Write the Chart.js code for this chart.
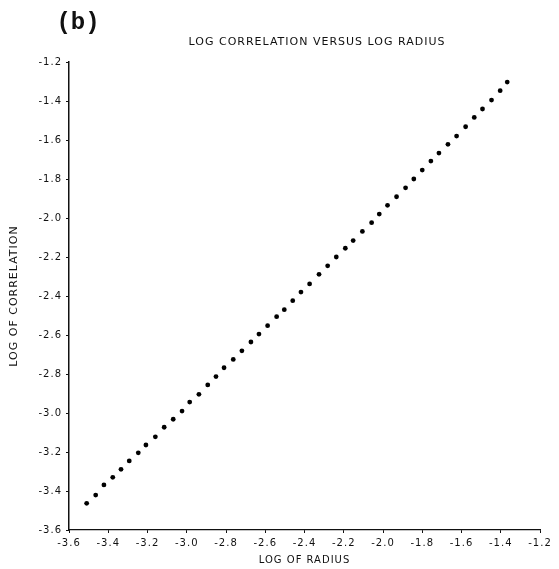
<!DOCTYPE html>
<html>
<head>
<meta charset="utf-8">
<script src="https://cdn.jsdelivr.net/npm/chart.js@4"></script>
<style>
html,body{margin:0;padding:0;background:#ffffff;}
#c{display:block;}
</style>
</head>
<body>
<canvas id="c" width="559" height="569"></canvas>
<script>
// ---- data ----
const logRadius = [-3.510,-3.464,-3.422,-3.377,-3.335,-3.293,-3.247,-3.208,-3.160,-3.115,
                   -3.069,-3.024,-2.985,-2.938,-2.893,-2.851,-2.810,-2.763,-2.719,-2.673,
                   -2.632,-2.588,-2.542,-2.503,-2.460,-2.418,-2.374,-2.326,-2.282,-2.238,
                   -2.192,-2.152,-2.105,-2.058,-2.019,-1.977,-1.931,-1.885,-1.843,-1.800,
                   -1.756,-1.715,-1.669,-1.625,-1.579,-1.535,-1.493,-1.447,-1.403,-1.367];
const logCorrelation = [-3.463,-3.421,-3.369,-3.330,-3.289,-3.246,-3.204,-3.164,-3.122,-3.073,
                        -3.032,-2.990,-2.944,-2.904,-2.856,-2.813,-2.768,-2.725,-2.681,-2.636,
                        -2.595,-2.552,-2.506,-2.470,-2.424,-2.380,-2.338,-2.289,-2.245,-2.200,
                        -2.155,-2.116,-2.069,-2.024,-1.980,-1.935,-1.891,-1.845,-1.800,-1.754,
                        -1.708,-1.667,-1.622,-1.580,-1.532,-1.484,-1.441,-1.395,-1.347,-1.303];
const xTickValues = [-3.6,-3.4,-3.2,-3.0,-2.8,-2.6,-2.4,-2.2,-2.0,-1.8,-1.6,-1.4,-1.2];
const yTickValues = [-3.6,-3.4,-3.2,-3.0,-2.8,-2.6,-2.4,-2.2,-2.0,-1.8,-1.6,-1.4,-1.2];
const chartTitle = 'LOG CORRELATION VERSUS LOG RADIUS';
const panelLabel = '(b)';
const xAxisTitle = 'LOG OF RADIUS';
const yAxisTitle = 'LOG OF CORRELATION';

const points = logRadius.map((x, i) => ({x: x, y: logCorrelation[i]}));

const spacingPlugin = {
  id: 'letterSpacing',
  beforeLayout(chart) { chart.ctx.letterSpacing = '1px'; },
  beforeDraw(chart) { chart.ctx.letterSpacing = '1px'; }
};

const textPlugin = {
  id: 'panelText',
  afterDraw(chart) {
    const ctx = chart.ctx;
    ctx.save();
    ctx.fillStyle = '#111111';
    ctx.textAlign = 'center';
    ctx.textBaseline = 'middle';
    ctx.letterSpacing = '0px';
    ctx.font = 'bold 24px "Liberation Mono"';
    ctx.fillText(panelLabel, 78, 23);
    ctx.letterSpacing = '1px';
    ctx.font = '11px "DejaVu Sans"';
    ctx.fillText(chartTitle, 317, 42);
    ctx.restore();
  }
};

new Chart(document.getElementById('c'), {
  type: 'scatter',
  data: {
    datasets: [{
      data: points,
      showLine: false,
      pointStyle: 'circle',
      pointRadius: 2.4,
      pointHoverRadius: 2.4,
      backgroundColor: '#000000',
      borderColor: '#000000',
      borderWidth: 0
    }]
  },
  options: {
    responsive: false,
    devicePixelRatio: 1,
    animation: false,
    events: [],
    layout: { padding: { top: 62, right: 19, bottom: 0, left: 0 } },
    plugins: {
      legend: { display: false },
      tooltip: { enabled: false },
      title: { display: false }
    },
    scales: {
      x: {
        type: 'linear',
        min: -3.6,
        max: -1.2,
        afterFit(scale) { scale.height = 39; },
        afterBuildTicks(scale) { scale.ticks = xTickValues.map(v => ({value: v})); },
        border: { display: true, color: '#111111', width: 1.2, dash: [5, 6] },
        grid: { display: true, drawOnChartArea: false, drawTicks: true, tickLength: 3, color: '#111111', lineWidth: 1 },
        ticks: {
          padding: 4,
          color: '#111111',
          font: { family: '"DejaVu Sans"', size: 10 },
          maxRotation: 0,
          autoSkip: false,
          callback: (v) => Number(v).toFixed(1)
        },
        title: {
          display: true,
          text: xAxisTitle,
          color: '#111111',
          font: { family: '"DejaVu Sans"', size: 10 },
          padding: { top: 0, bottom: 3 }
        }
      },
      y: {
        type: 'linear',
        min: -3.6,
        max: -1.2,
        afterFit(scale) { scale.width = 69; },
        afterBuildTicks(scale) { scale.ticks = yTickValues.map(v => ({value: v})); },
        border: { display: true, color: '#111111', width: 1.5 },
        grid: { display: true, drawOnChartArea: false, drawTicks: true, tickLength: 3, color: '#111111', lineWidth: 1 },
        ticks: {
          padding: 4,
          color: '#111111',
          font: { family: '"DejaVu Sans"', size: 10 },
          autoSkip: false,
          callback: (v) => Number(v).toFixed(1)
        },
        title: {
          display: true,
          text: yAxisTitle,
          color: '#111111',
          font: { family: '"DejaVu Sans"', size: 11 },
          padding: { top: 8, bottom: 0 }
        }
      }
    }
  },
  plugins: [spacingPlugin, textPlugin]
});
</script>
</body>
</html>
